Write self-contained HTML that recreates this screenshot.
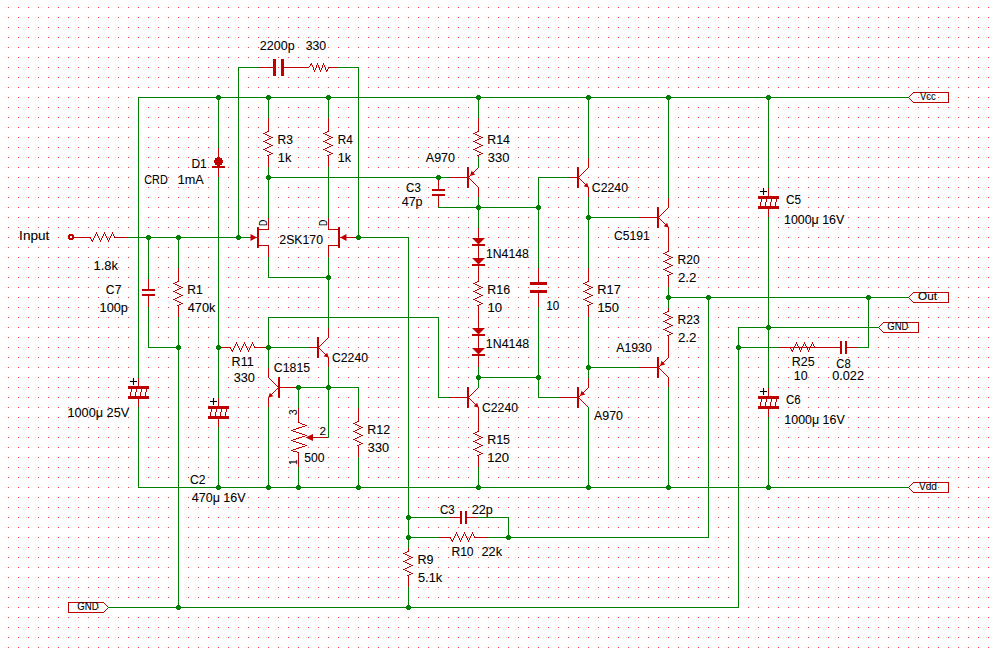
<!DOCTYPE html>
<html><head><meta charset="utf-8"><style>
html,body{margin:0;padding:0;background:#fff;width:997px;height:649px;overflow:hidden}
svg{display:block}
text{font-family:"Liberation Sans",sans-serif}
</style></head><body><svg width="997" height="649" viewBox="0 0 997 649"><rect width="997" height="649" fill="#fff"/><defs><pattern id="g" x="8" y="7" width="10" height="10" patternUnits="userSpaceOnUse"><rect x="0" y="0" width="1" height="1" fill="#ff3c3c"/></pattern></defs><rect x="0" y="0" width="997" height="649" fill="url(#g)"/><g shape-rendering="crispEdges"><rect x="69" y="234" width="4" height="1" fill="#c00000"/><rect x="68" y="235" width="6" height="1" fill="#c00000"/><rect x="68" y="236" width="2" height="2" fill="#c00000"/><rect x="72" y="236" width="2" height="2" fill="#c00000"/><rect x="68" y="238" width="6" height="1" fill="#c00000"/><rect x="69" y="239" width="4" height="1" fill="#c00000"/><rect x="73" y="237" width="18" height="1" fill="#c00000"/><rect x="115" y="237" width="13" height="1" fill="#c00000"/><rect x="90" y="237" width="1" height="2" fill="#c00000"/><rect x="91" y="239" width="1" height="2" fill="#c00000"/><rect x="92" y="240" width="1" height="2" fill="#c00000"/><rect x="93" y="238" width="1" height="2" fill="#c00000"/><rect x="94" y="236" width="1" height="2" fill="#c00000"/><rect x="95" y="234" width="1" height="2" fill="#c00000"/><rect x="96" y="232" width="1" height="2" fill="#c00000"/><rect x="97" y="234" width="1" height="2" fill="#c00000"/><rect x="98" y="236" width="1" height="2" fill="#c00000"/><rect x="99" y="238" width="1" height="2" fill="#c00000"/><rect x="100" y="240" width="1" height="2" fill="#c00000"/><rect x="101" y="238" width="1" height="2" fill="#c00000"/><rect x="102" y="236" width="1" height="2" fill="#c00000"/><rect x="103" y="234" width="1" height="2" fill="#c00000"/><rect x="104" y="232" width="1" height="2" fill="#c00000"/><rect x="105" y="234" width="1" height="2" fill="#c00000"/><rect x="106" y="236" width="1" height="2" fill="#c00000"/><rect x="107" y="238" width="1" height="2" fill="#c00000"/><rect x="108" y="240" width="1" height="2" fill="#c00000"/><rect x="109" y="238" width="1" height="2" fill="#c00000"/><rect x="110" y="236" width="1" height="2" fill="#c00000"/><rect x="111" y="234" width="1" height="2" fill="#c00000"/><rect x="112" y="232" width="1" height="2" fill="#c00000"/><rect x="113" y="234" width="1" height="2" fill="#c00000"/><rect x="114" y="236" width="1" height="2" fill="#c00000"/><rect x="913" y="92" width="36" height="1" fill="#c00000"/><rect x="913" y="102" width="36" height="1" fill="#c00000"/><rect x="948" y="92" width="1" height="11" fill="#c00000"/><rect x="913" y="92" width="1" height="1" fill="#c00000"/><rect x="912" y="93" width="1" height="1" fill="#c00000"/><rect x="911" y="94" width="1" height="1" fill="#c00000"/><rect x="910" y="95" width="1" height="1" fill="#c00000"/><rect x="909" y="96" width="1" height="1" fill="#c00000"/><rect x="908" y="97" width="1" height="1" fill="#c00000"/><rect x="909" y="98" width="1" height="1" fill="#c00000"/><rect x="910" y="99" width="1" height="1" fill="#c00000"/><rect x="911" y="100" width="1" height="1" fill="#c00000"/><rect x="912" y="101" width="1" height="1" fill="#c00000"/><rect x="913" y="102" width="1" height="1" fill="#c00000"/><rect x="913" y="292" width="36" height="1" fill="#c00000"/><rect x="913" y="302" width="36" height="1" fill="#c00000"/><rect x="948" y="292" width="1" height="11" fill="#c00000"/><rect x="913" y="292" width="1" height="1" fill="#c00000"/><rect x="912" y="293" width="1" height="1" fill="#c00000"/><rect x="911" y="294" width="1" height="1" fill="#c00000"/><rect x="910" y="295" width="1" height="1" fill="#c00000"/><rect x="909" y="296" width="1" height="1" fill="#c00000"/><rect x="908" y="297" width="1" height="1" fill="#c00000"/><rect x="909" y="298" width="1" height="1" fill="#c00000"/><rect x="910" y="299" width="1" height="1" fill="#c00000"/><rect x="911" y="300" width="1" height="1" fill="#c00000"/><rect x="912" y="301" width="1" height="1" fill="#c00000"/><rect x="913" y="302" width="1" height="1" fill="#c00000"/><rect x="883" y="322" width="36" height="1" fill="#c00000"/><rect x="883" y="332" width="36" height="1" fill="#c00000"/><rect x="918" y="322" width="1" height="11" fill="#c00000"/><rect x="883" y="322" width="1" height="1" fill="#c00000"/><rect x="882" y="323" width="1" height="1" fill="#c00000"/><rect x="881" y="324" width="1" height="1" fill="#c00000"/><rect x="880" y="325" width="1" height="1" fill="#c00000"/><rect x="879" y="326" width="1" height="1" fill="#c00000"/><rect x="878" y="327" width="1" height="1" fill="#c00000"/><rect x="879" y="328" width="1" height="1" fill="#c00000"/><rect x="880" y="329" width="1" height="1" fill="#c00000"/><rect x="881" y="330" width="1" height="1" fill="#c00000"/><rect x="882" y="331" width="1" height="1" fill="#c00000"/><rect x="883" y="332" width="1" height="1" fill="#c00000"/><rect x="913" y="482" width="36" height="1" fill="#c00000"/><rect x="913" y="492" width="36" height="1" fill="#c00000"/><rect x="948" y="482" width="1" height="11" fill="#c00000"/><rect x="913" y="482" width="1" height="1" fill="#c00000"/><rect x="912" y="483" width="1" height="1" fill="#c00000"/><rect x="911" y="484" width="1" height="1" fill="#c00000"/><rect x="910" y="485" width="1" height="1" fill="#c00000"/><rect x="909" y="486" width="1" height="1" fill="#c00000"/><rect x="908" y="487" width="1" height="1" fill="#c00000"/><rect x="909" y="488" width="1" height="1" fill="#c00000"/><rect x="910" y="489" width="1" height="1" fill="#c00000"/><rect x="911" y="490" width="1" height="1" fill="#c00000"/><rect x="912" y="491" width="1" height="1" fill="#c00000"/><rect x="913" y="492" width="1" height="1" fill="#c00000"/><rect x="68" y="602" width="36" height="1" fill="#c00000"/><rect x="68" y="612" width="36" height="1" fill="#c00000"/><rect x="68" y="602" width="1" height="11" fill="#c00000"/><rect x="103" y="602" width="1" height="1" fill="#c00000"/><rect x="104" y="603" width="1" height="1" fill="#c00000"/><rect x="105" y="604" width="1" height="1" fill="#c00000"/><rect x="106" y="605" width="1" height="1" fill="#c00000"/><rect x="107" y="606" width="1" height="1" fill="#c00000"/><rect x="108" y="607" width="1" height="1" fill="#c00000"/><rect x="107" y="608" width="1" height="1" fill="#c00000"/><rect x="106" y="609" width="1" height="1" fill="#c00000"/><rect x="105" y="610" width="1" height="1" fill="#c00000"/><rect x="104" y="611" width="1" height="1" fill="#c00000"/><rect x="103" y="612" width="1" height="1" fill="#c00000"/><rect x="138" y="377" width="1" height="10" fill="#c00000"/><rect x="138" y="398" width="1" height="10" fill="#c00000"/><rect x="128" y="386" width="21" height="3" fill="#c00000"/><rect x="128" y="396" width="21" height="3" fill="#c00000"/><rect x="130" y="392" width="1" height="4" fill="#c00000"/><rect x="131" y="389" width="1" height="3" fill="#c00000"/><rect x="135" y="392" width="1" height="4" fill="#c00000"/><rect x="136" y="389" width="1" height="3" fill="#c00000"/><rect x="140" y="392" width="1" height="4" fill="#c00000"/><rect x="141" y="389" width="1" height="3" fill="#c00000"/><rect x="145" y="392" width="1" height="4" fill="#c00000"/><rect x="146" y="389" width="1" height="3" fill="#c00000"/><rect x="148" y="277" width="1" height="13" fill="#c00000"/><rect x="148" y="295" width="1" height="13" fill="#c00000"/><rect x="142" y="289" width="13" height="2" fill="#c00000"/><rect x="142" y="294" width="13" height="2" fill="#c00000"/><rect x="178" y="267" width="1" height="15" fill="#c00000"/><rect x="178" y="305" width="1" height="13" fill="#c00000"/><rect x="177" y="281" width="2" height="1" fill="#c00000"/><rect x="175" y="282" width="2" height="1" fill="#c00000"/><rect x="173" y="283" width="2" height="1" fill="#c00000"/><rect x="175" y="284" width="2" height="1" fill="#c00000"/><rect x="177" y="285" width="2" height="1" fill="#c00000"/><rect x="179" y="286" width="2" height="1" fill="#c00000"/><rect x="181" y="287" width="2" height="1" fill="#c00000"/><rect x="179" y="288" width="2" height="1" fill="#c00000"/><rect x="177" y="289" width="2" height="1" fill="#c00000"/><rect x="175" y="290" width="2" height="1" fill="#c00000"/><rect x="173" y="291" width="2" height="1" fill="#c00000"/><rect x="175" y="292" width="2" height="1" fill="#c00000"/><rect x="177" y="293" width="2" height="1" fill="#c00000"/><rect x="179" y="294" width="2" height="1" fill="#c00000"/><rect x="181" y="295" width="2" height="1" fill="#c00000"/><rect x="179" y="296" width="2" height="1" fill="#c00000"/><rect x="177" y="297" width="2" height="1" fill="#c00000"/><rect x="175" y="298" width="2" height="1" fill="#c00000"/><rect x="173" y="299" width="2" height="1" fill="#c00000"/><rect x="175" y="300" width="2" height="1" fill="#c00000"/><rect x="177" y="301" width="2" height="1" fill="#c00000"/><rect x="179" y="302" width="2" height="1" fill="#c00000"/><rect x="181" y="303" width="2" height="1" fill="#c00000"/><rect x="179" y="304" width="2" height="1" fill="#c00000"/><rect x="177" y="305" width="2" height="1" fill="#c00000"/><rect x="218" y="148" width="1" height="30" fill="#c00000"/><rect x="217" y="157" width="3" height="9" fill="#c00000"/><rect x="215" y="158" width="7" height="7" fill="#c00000"/><rect x="214" y="160" width="9" height="3" fill="#c00000"/><rect x="212" y="166" width="13" height="2" fill="#c00000"/><rect x="218" y="397" width="1" height="10" fill="#c00000"/><rect x="218" y="418" width="1" height="10" fill="#c00000"/><rect x="208" y="406" width="21" height="3" fill="#c00000"/><rect x="208" y="416" width="21" height="3" fill="#c00000"/><rect x="210" y="412" width="1" height="4" fill="#c00000"/><rect x="211" y="409" width="1" height="3" fill="#c00000"/><rect x="215" y="412" width="1" height="4" fill="#c00000"/><rect x="216" y="409" width="1" height="3" fill="#c00000"/><rect x="220" y="412" width="1" height="4" fill="#c00000"/><rect x="221" y="409" width="1" height="3" fill="#c00000"/><rect x="225" y="412" width="1" height="4" fill="#c00000"/><rect x="226" y="409" width="1" height="3" fill="#c00000"/><rect x="259" y="67" width="15" height="1" fill="#c00000"/><rect x="283" y="67" width="16" height="1" fill="#c00000"/><rect x="273" y="59" width="3" height="17" fill="#c00000"/><rect x="281" y="59" width="3" height="17" fill="#c00000"/><rect x="284" y="67" width="25" height="1" fill="#c00000"/><rect x="328" y="67" width="10" height="1" fill="#c00000"/><rect x="308" y="67" width="1" height="1" fill="#c00000"/><rect x="309" y="66" width="1" height="1" fill="#c00000"/><rect x="310" y="65" width="1" height="1" fill="#c00000"/><rect x="310" y="64" width="1" height="1" fill="#c00000"/><rect x="311" y="63" width="1" height="1" fill="#c00000"/><rect x="311" y="64" width="1" height="1" fill="#c00000"/><rect x="312" y="65" width="1" height="1" fill="#c00000"/><rect x="312" y="66" width="1" height="1" fill="#c00000"/><rect x="313" y="67" width="1" height="1" fill="#c00000"/><rect x="313" y="68" width="1" height="1" fill="#c00000"/><rect x="313" y="69" width="1" height="1" fill="#c00000"/><rect x="314" y="70" width="1" height="1" fill="#c00000"/><rect x="314" y="71" width="1" height="1" fill="#c00000"/><rect x="315" y="69" width="1" height="1" fill="#c00000"/><rect x="315" y="68" width="1" height="1" fill="#c00000"/><rect x="316" y="67" width="1" height="1" fill="#c00000"/><rect x="316" y="66" width="1" height="1" fill="#c00000"/><rect x="316" y="65" width="1" height="1" fill="#c00000"/><rect x="317" y="64" width="1" height="1" fill="#c00000"/><rect x="317" y="63" width="1" height="1" fill="#c00000"/><rect x="318" y="65" width="1" height="1" fill="#c00000"/><rect x="318" y="66" width="1" height="1" fill="#c00000"/><rect x="319" y="67" width="1" height="1" fill="#c00000"/><rect x="319" y="68" width="1" height="1" fill="#c00000"/><rect x="319" y="69" width="1" height="1" fill="#c00000"/><rect x="320" y="70" width="1" height="1" fill="#c00000"/><rect x="320" y="71" width="1" height="1" fill="#c00000"/><rect x="321" y="69" width="1" height="1" fill="#c00000"/><rect x="321" y="68" width="1" height="1" fill="#c00000"/><rect x="322" y="67" width="1" height="1" fill="#c00000"/><rect x="322" y="66" width="1" height="1" fill="#c00000"/><rect x="322" y="65" width="1" height="1" fill="#c00000"/><rect x="323" y="64" width="1" height="1" fill="#c00000"/><rect x="323" y="63" width="1" height="1" fill="#c00000"/><rect x="324" y="65" width="1" height="1" fill="#c00000"/><rect x="324" y="66" width="1" height="1" fill="#c00000"/><rect x="325" y="67" width="1" height="1" fill="#c00000"/><rect x="325" y="68" width="1" height="1" fill="#c00000"/><rect x="325" y="69" width="1" height="1" fill="#c00000"/><rect x="326" y="70" width="1" height="1" fill="#c00000"/><rect x="326" y="71" width="1" height="1" fill="#c00000"/><rect x="327" y="70" width="1" height="1" fill="#c00000"/><rect x="327" y="69" width="1" height="1" fill="#c00000"/><rect x="328" y="68" width="1" height="1" fill="#c00000"/><rect x="328" y="67" width="1" height="1" fill="#c00000"/><rect x="268" y="117" width="1" height="15" fill="#c00000"/><rect x="268" y="155" width="1" height="13" fill="#c00000"/><rect x="267" y="131" width="2" height="1" fill="#c00000"/><rect x="265" y="132" width="2" height="1" fill="#c00000"/><rect x="263" y="133" width="2" height="1" fill="#c00000"/><rect x="265" y="134" width="2" height="1" fill="#c00000"/><rect x="267" y="135" width="2" height="1" fill="#c00000"/><rect x="269" y="136" width="2" height="1" fill="#c00000"/><rect x="271" y="137" width="2" height="1" fill="#c00000"/><rect x="269" y="138" width="2" height="1" fill="#c00000"/><rect x="267" y="139" width="2" height="1" fill="#c00000"/><rect x="265" y="140" width="2" height="1" fill="#c00000"/><rect x="263" y="141" width="2" height="1" fill="#c00000"/><rect x="265" y="142" width="2" height="1" fill="#c00000"/><rect x="267" y="143" width="2" height="1" fill="#c00000"/><rect x="269" y="144" width="2" height="1" fill="#c00000"/><rect x="271" y="145" width="2" height="1" fill="#c00000"/><rect x="269" y="146" width="2" height="1" fill="#c00000"/><rect x="267" y="147" width="2" height="1" fill="#c00000"/><rect x="265" y="148" width="2" height="1" fill="#c00000"/><rect x="263" y="149" width="2" height="1" fill="#c00000"/><rect x="265" y="150" width="2" height="1" fill="#c00000"/><rect x="267" y="151" width="2" height="1" fill="#c00000"/><rect x="269" y="152" width="2" height="1" fill="#c00000"/><rect x="271" y="153" width="2" height="1" fill="#c00000"/><rect x="269" y="154" width="2" height="1" fill="#c00000"/><rect x="267" y="155" width="2" height="1" fill="#c00000"/><rect x="328" y="117" width="1" height="15" fill="#c00000"/><rect x="328" y="155" width="1" height="13" fill="#c00000"/><rect x="327" y="131" width="2" height="1" fill="#c00000"/><rect x="325" y="132" width="2" height="1" fill="#c00000"/><rect x="323" y="133" width="2" height="1" fill="#c00000"/><rect x="325" y="134" width="2" height="1" fill="#c00000"/><rect x="327" y="135" width="2" height="1" fill="#c00000"/><rect x="329" y="136" width="2" height="1" fill="#c00000"/><rect x="331" y="137" width="2" height="1" fill="#c00000"/><rect x="329" y="138" width="2" height="1" fill="#c00000"/><rect x="327" y="139" width="2" height="1" fill="#c00000"/><rect x="325" y="140" width="2" height="1" fill="#c00000"/><rect x="323" y="141" width="2" height="1" fill="#c00000"/><rect x="325" y="142" width="2" height="1" fill="#c00000"/><rect x="327" y="143" width="2" height="1" fill="#c00000"/><rect x="329" y="144" width="2" height="1" fill="#c00000"/><rect x="331" y="145" width="2" height="1" fill="#c00000"/><rect x="329" y="146" width="2" height="1" fill="#c00000"/><rect x="327" y="147" width="2" height="1" fill="#c00000"/><rect x="325" y="148" width="2" height="1" fill="#c00000"/><rect x="323" y="149" width="2" height="1" fill="#c00000"/><rect x="325" y="150" width="2" height="1" fill="#c00000"/><rect x="327" y="151" width="2" height="1" fill="#c00000"/><rect x="329" y="152" width="2" height="1" fill="#c00000"/><rect x="331" y="153" width="2" height="1" fill="#c00000"/><rect x="329" y="154" width="2" height="1" fill="#c00000"/><rect x="327" y="155" width="2" height="1" fill="#c00000"/><rect x="257" y="227" width="2" height="21" fill="#c00000"/><rect x="257" y="229" width="12" height="1" fill="#c00000"/><rect x="257" y="245" width="12" height="1" fill="#c00000"/><rect x="238" y="237" width="20" height="1" fill="#c00000"/><rect x="268" y="217" width="1" height="13" fill="#c00000"/><rect x="268" y="245" width="1" height="13" fill="#c00000"/><rect x="338" y="227" width="2" height="21" fill="#c00000"/><rect x="328" y="229" width="12" height="1" fill="#c00000"/><rect x="328" y="245" width="12" height="1" fill="#c00000"/><rect x="339" y="237" width="20" height="1" fill="#c00000"/><rect x="328" y="217" width="1" height="13" fill="#c00000"/><rect x="328" y="245" width="1" height="13" fill="#c00000"/><rect x="438" y="177" width="1" height="13" fill="#c00000"/><rect x="438" y="195" width="1" height="13" fill="#c00000"/><rect x="432" y="189" width="13" height="2" fill="#c00000"/><rect x="432" y="194" width="13" height="2" fill="#c00000"/><rect x="467" y="167" width="2" height="21" fill="#c00000"/><rect x="448" y="177" width="19" height="1" fill="#c00000"/><rect x="469" y="176" width="1" height="1" fill="#c00000"/><rect x="469" y="178" width="1" height="1" fill="#c00000"/><rect x="470" y="175" width="1" height="1" fill="#c00000"/><rect x="470" y="179" width="1" height="1" fill="#c00000"/><rect x="471" y="174" width="1" height="1" fill="#c00000"/><rect x="471" y="180" width="1" height="1" fill="#c00000"/><rect x="472" y="173" width="1" height="1" fill="#c00000"/><rect x="472" y="181" width="1" height="1" fill="#c00000"/><rect x="473" y="172" width="1" height="1" fill="#c00000"/><rect x="473" y="182" width="1" height="1" fill="#c00000"/><rect x="474" y="171" width="1" height="1" fill="#c00000"/><rect x="474" y="183" width="1" height="1" fill="#c00000"/><rect x="475" y="170" width="1" height="1" fill="#c00000"/><rect x="475" y="184" width="1" height="1" fill="#c00000"/><rect x="476" y="169" width="1" height="1" fill="#c00000"/><rect x="476" y="185" width="1" height="1" fill="#c00000"/><rect x="477" y="168" width="1" height="1" fill="#c00000"/><rect x="477" y="186" width="1" height="1" fill="#c00000"/><rect x="478" y="167" width="1" height="1" fill="#c00000"/><rect x="478" y="187" width="1" height="1" fill="#c00000"/><rect x="478" y="157" width="1" height="11" fill="#c00000"/><rect x="478" y="187" width="1" height="11" fill="#c00000"/><rect x="478" y="117" width="1" height="15" fill="#c00000"/><rect x="478" y="155" width="1" height="13" fill="#c00000"/><rect x="477" y="131" width="2" height="1" fill="#c00000"/><rect x="475" y="132" width="2" height="1" fill="#c00000"/><rect x="473" y="133" width="2" height="1" fill="#c00000"/><rect x="475" y="134" width="2" height="1" fill="#c00000"/><rect x="477" y="135" width="2" height="1" fill="#c00000"/><rect x="479" y="136" width="2" height="1" fill="#c00000"/><rect x="481" y="137" width="2" height="1" fill="#c00000"/><rect x="479" y="138" width="2" height="1" fill="#c00000"/><rect x="477" y="139" width="2" height="1" fill="#c00000"/><rect x="475" y="140" width="2" height="1" fill="#c00000"/><rect x="473" y="141" width="2" height="1" fill="#c00000"/><rect x="475" y="142" width="2" height="1" fill="#c00000"/><rect x="477" y="143" width="2" height="1" fill="#c00000"/><rect x="479" y="144" width="2" height="1" fill="#c00000"/><rect x="481" y="145" width="2" height="1" fill="#c00000"/><rect x="479" y="146" width="2" height="1" fill="#c00000"/><rect x="477" y="147" width="2" height="1" fill="#c00000"/><rect x="475" y="148" width="2" height="1" fill="#c00000"/><rect x="473" y="149" width="2" height="1" fill="#c00000"/><rect x="475" y="150" width="2" height="1" fill="#c00000"/><rect x="477" y="151" width="2" height="1" fill="#c00000"/><rect x="479" y="152" width="2" height="1" fill="#c00000"/><rect x="481" y="153" width="2" height="1" fill="#c00000"/><rect x="479" y="154" width="2" height="1" fill="#c00000"/><rect x="477" y="155" width="2" height="1" fill="#c00000"/><rect x="478" y="228" width="1" height="41" fill="#c00000"/><rect x="478" y="316" width="1" height="51" fill="#c00000"/><rect x="472" y="244" width="13" height="2" fill="#c00000"/><rect x="472" y="264" width="13" height="2" fill="#c00000"/><rect x="478" y="268" width="1" height="14" fill="#c00000"/><rect x="478" y="305" width="1" height="12" fill="#c00000"/><rect x="477" y="281" width="2" height="1" fill="#c00000"/><rect x="475" y="282" width="2" height="1" fill="#c00000"/><rect x="473" y="283" width="2" height="1" fill="#c00000"/><rect x="475" y="284" width="2" height="1" fill="#c00000"/><rect x="477" y="285" width="2" height="1" fill="#c00000"/><rect x="479" y="286" width="2" height="1" fill="#c00000"/><rect x="481" y="287" width="2" height="1" fill="#c00000"/><rect x="479" y="288" width="2" height="1" fill="#c00000"/><rect x="477" y="289" width="2" height="1" fill="#c00000"/><rect x="475" y="290" width="2" height="1" fill="#c00000"/><rect x="473" y="291" width="2" height="1" fill="#c00000"/><rect x="475" y="292" width="2" height="1" fill="#c00000"/><rect x="477" y="293" width="2" height="1" fill="#c00000"/><rect x="479" y="294" width="2" height="1" fill="#c00000"/><rect x="481" y="295" width="2" height="1" fill="#c00000"/><rect x="479" y="296" width="2" height="1" fill="#c00000"/><rect x="477" y="297" width="2" height="1" fill="#c00000"/><rect x="475" y="298" width="2" height="1" fill="#c00000"/><rect x="473" y="299" width="2" height="1" fill="#c00000"/><rect x="475" y="300" width="2" height="1" fill="#c00000"/><rect x="477" y="301" width="2" height="1" fill="#c00000"/><rect x="479" y="302" width="2" height="1" fill="#c00000"/><rect x="481" y="303" width="2" height="1" fill="#c00000"/><rect x="479" y="304" width="2" height="1" fill="#c00000"/><rect x="477" y="305" width="2" height="1" fill="#c00000"/><rect x="472" y="334" width="13" height="2" fill="#c00000"/><rect x="472" y="354" width="13" height="2" fill="#c00000"/><rect x="538" y="267" width="1" height="16" fill="#c00000"/><rect x="538" y="292" width="1" height="16" fill="#c00000"/><rect x="530" y="282" width="17" height="3" fill="#c00000"/><rect x="530" y="290" width="17" height="3" fill="#c00000"/><rect x="577" y="167" width="2" height="21" fill="#c00000"/><rect x="558" y="177" width="19" height="1" fill="#c00000"/><rect x="579" y="176" width="1" height="1" fill="#c00000"/><rect x="579" y="178" width="1" height="1" fill="#c00000"/><rect x="580" y="175" width="1" height="1" fill="#c00000"/><rect x="580" y="179" width="1" height="1" fill="#c00000"/><rect x="581" y="174" width="1" height="1" fill="#c00000"/><rect x="581" y="180" width="1" height="1" fill="#c00000"/><rect x="582" y="173" width="1" height="1" fill="#c00000"/><rect x="582" y="181" width="1" height="1" fill="#c00000"/><rect x="583" y="172" width="1" height="1" fill="#c00000"/><rect x="583" y="182" width="1" height="1" fill="#c00000"/><rect x="584" y="171" width="1" height="1" fill="#c00000"/><rect x="584" y="183" width="1" height="1" fill="#c00000"/><rect x="585" y="170" width="1" height="1" fill="#c00000"/><rect x="585" y="184" width="1" height="1" fill="#c00000"/><rect x="586" y="169" width="1" height="1" fill="#c00000"/><rect x="586" y="185" width="1" height="1" fill="#c00000"/><rect x="587" y="168" width="1" height="1" fill="#c00000"/><rect x="587" y="186" width="1" height="1" fill="#c00000"/><rect x="588" y="167" width="1" height="1" fill="#c00000"/><rect x="588" y="187" width="1" height="1" fill="#c00000"/><rect x="588" y="157" width="1" height="11" fill="#c00000"/><rect x="588" y="187" width="1" height="11" fill="#c00000"/><rect x="588" y="267" width="1" height="15" fill="#c00000"/><rect x="588" y="305" width="1" height="13" fill="#c00000"/><rect x="587" y="281" width="2" height="1" fill="#c00000"/><rect x="585" y="282" width="2" height="1" fill="#c00000"/><rect x="583" y="283" width="2" height="1" fill="#c00000"/><rect x="585" y="284" width="2" height="1" fill="#c00000"/><rect x="587" y="285" width="2" height="1" fill="#c00000"/><rect x="589" y="286" width="2" height="1" fill="#c00000"/><rect x="591" y="287" width="2" height="1" fill="#c00000"/><rect x="589" y="288" width="2" height="1" fill="#c00000"/><rect x="587" y="289" width="2" height="1" fill="#c00000"/><rect x="585" y="290" width="2" height="1" fill="#c00000"/><rect x="583" y="291" width="2" height="1" fill="#c00000"/><rect x="585" y="292" width="2" height="1" fill="#c00000"/><rect x="587" y="293" width="2" height="1" fill="#c00000"/><rect x="589" y="294" width="2" height="1" fill="#c00000"/><rect x="591" y="295" width="2" height="1" fill="#c00000"/><rect x="589" y="296" width="2" height="1" fill="#c00000"/><rect x="587" y="297" width="2" height="1" fill="#c00000"/><rect x="585" y="298" width="2" height="1" fill="#c00000"/><rect x="583" y="299" width="2" height="1" fill="#c00000"/><rect x="585" y="300" width="2" height="1" fill="#c00000"/><rect x="587" y="301" width="2" height="1" fill="#c00000"/><rect x="589" y="302" width="2" height="1" fill="#c00000"/><rect x="591" y="303" width="2" height="1" fill="#c00000"/><rect x="589" y="304" width="2" height="1" fill="#c00000"/><rect x="587" y="305" width="2" height="1" fill="#c00000"/><rect x="577" y="387" width="2" height="21" fill="#c00000"/><rect x="558" y="397" width="19" height="1" fill="#c00000"/><rect x="579" y="396" width="1" height="1" fill="#c00000"/><rect x="579" y="398" width="1" height="1" fill="#c00000"/><rect x="580" y="395" width="1" height="1" fill="#c00000"/><rect x="580" y="399" width="1" height="1" fill="#c00000"/><rect x="581" y="394" width="1" height="1" fill="#c00000"/><rect x="581" y="400" width="1" height="1" fill="#c00000"/><rect x="582" y="393" width="1" height="1" fill="#c00000"/><rect x="582" y="401" width="1" height="1" fill="#c00000"/><rect x="583" y="392" width="1" height="1" fill="#c00000"/><rect x="583" y="402" width="1" height="1" fill="#c00000"/><rect x="584" y="391" width="1" height="1" fill="#c00000"/><rect x="584" y="403" width="1" height="1" fill="#c00000"/><rect x="585" y="390" width="1" height="1" fill="#c00000"/><rect x="585" y="404" width="1" height="1" fill="#c00000"/><rect x="586" y="389" width="1" height="1" fill="#c00000"/><rect x="586" y="405" width="1" height="1" fill="#c00000"/><rect x="587" y="388" width="1" height="1" fill="#c00000"/><rect x="587" y="406" width="1" height="1" fill="#c00000"/><rect x="588" y="387" width="1" height="1" fill="#c00000"/><rect x="588" y="407" width="1" height="1" fill="#c00000"/><rect x="588" y="377" width="1" height="11" fill="#c00000"/><rect x="588" y="407" width="1" height="11" fill="#c00000"/><rect x="467" y="387" width="2" height="21" fill="#c00000"/><rect x="448" y="397" width="19" height="1" fill="#c00000"/><rect x="469" y="396" width="1" height="1" fill="#c00000"/><rect x="469" y="398" width="1" height="1" fill="#c00000"/><rect x="470" y="395" width="1" height="1" fill="#c00000"/><rect x="470" y="399" width="1" height="1" fill="#c00000"/><rect x="471" y="394" width="1" height="1" fill="#c00000"/><rect x="471" y="400" width="1" height="1" fill="#c00000"/><rect x="472" y="393" width="1" height="1" fill="#c00000"/><rect x="472" y="401" width="1" height="1" fill="#c00000"/><rect x="473" y="392" width="1" height="1" fill="#c00000"/><rect x="473" y="402" width="1" height="1" fill="#c00000"/><rect x="474" y="391" width="1" height="1" fill="#c00000"/><rect x="474" y="403" width="1" height="1" fill="#c00000"/><rect x="475" y="390" width="1" height="1" fill="#c00000"/><rect x="475" y="404" width="1" height="1" fill="#c00000"/><rect x="476" y="389" width="1" height="1" fill="#c00000"/><rect x="476" y="405" width="1" height="1" fill="#c00000"/><rect x="477" y="388" width="1" height="1" fill="#c00000"/><rect x="477" y="406" width="1" height="1" fill="#c00000"/><rect x="478" y="387" width="1" height="1" fill="#c00000"/><rect x="478" y="407" width="1" height="1" fill="#c00000"/><rect x="478" y="377" width="1" height="11" fill="#c00000"/><rect x="478" y="407" width="1" height="11" fill="#c00000"/><rect x="478" y="417" width="1" height="15" fill="#c00000"/><rect x="478" y="455" width="1" height="13" fill="#c00000"/><rect x="477" y="431" width="2" height="1" fill="#c00000"/><rect x="475" y="432" width="2" height="1" fill="#c00000"/><rect x="473" y="433" width="2" height="1" fill="#c00000"/><rect x="475" y="434" width="2" height="1" fill="#c00000"/><rect x="477" y="435" width="2" height="1" fill="#c00000"/><rect x="479" y="436" width="2" height="1" fill="#c00000"/><rect x="481" y="437" width="2" height="1" fill="#c00000"/><rect x="479" y="438" width="2" height="1" fill="#c00000"/><rect x="477" y="439" width="2" height="1" fill="#c00000"/><rect x="475" y="440" width="2" height="1" fill="#c00000"/><rect x="473" y="441" width="2" height="1" fill="#c00000"/><rect x="475" y="442" width="2" height="1" fill="#c00000"/><rect x="477" y="443" width="2" height="1" fill="#c00000"/><rect x="479" y="444" width="2" height="1" fill="#c00000"/><rect x="481" y="445" width="2" height="1" fill="#c00000"/><rect x="479" y="446" width="2" height="1" fill="#c00000"/><rect x="477" y="447" width="2" height="1" fill="#c00000"/><rect x="475" y="448" width="2" height="1" fill="#c00000"/><rect x="473" y="449" width="2" height="1" fill="#c00000"/><rect x="475" y="450" width="2" height="1" fill="#c00000"/><rect x="477" y="451" width="2" height="1" fill="#c00000"/><rect x="479" y="452" width="2" height="1" fill="#c00000"/><rect x="481" y="453" width="2" height="1" fill="#c00000"/><rect x="479" y="454" width="2" height="1" fill="#c00000"/><rect x="477" y="455" width="2" height="1" fill="#c00000"/><rect x="657" y="207" width="2" height="21" fill="#c00000"/><rect x="638" y="217" width="19" height="1" fill="#c00000"/><rect x="659" y="216" width="1" height="1" fill="#c00000"/><rect x="659" y="218" width="1" height="1" fill="#c00000"/><rect x="660" y="215" width="1" height="1" fill="#c00000"/><rect x="660" y="219" width="1" height="1" fill="#c00000"/><rect x="661" y="214" width="1" height="1" fill="#c00000"/><rect x="661" y="220" width="1" height="1" fill="#c00000"/><rect x="662" y="213" width="1" height="1" fill="#c00000"/><rect x="662" y="221" width="1" height="1" fill="#c00000"/><rect x="663" y="212" width="1" height="1" fill="#c00000"/><rect x="663" y="222" width="1" height="1" fill="#c00000"/><rect x="664" y="211" width="1" height="1" fill="#c00000"/><rect x="664" y="223" width="1" height="1" fill="#c00000"/><rect x="665" y="210" width="1" height="1" fill="#c00000"/><rect x="665" y="224" width="1" height="1" fill="#c00000"/><rect x="666" y="209" width="1" height="1" fill="#c00000"/><rect x="666" y="225" width="1" height="1" fill="#c00000"/><rect x="667" y="208" width="1" height="1" fill="#c00000"/><rect x="667" y="226" width="1" height="1" fill="#c00000"/><rect x="668" y="207" width="1" height="1" fill="#c00000"/><rect x="668" y="227" width="1" height="1" fill="#c00000"/><rect x="668" y="197" width="1" height="11" fill="#c00000"/><rect x="668" y="227" width="1" height="11" fill="#c00000"/><rect x="668" y="237" width="1" height="15" fill="#c00000"/><rect x="668" y="275" width="1" height="13" fill="#c00000"/><rect x="667" y="251" width="2" height="1" fill="#c00000"/><rect x="665" y="252" width="2" height="1" fill="#c00000"/><rect x="663" y="253" width="2" height="1" fill="#c00000"/><rect x="665" y="254" width="2" height="1" fill="#c00000"/><rect x="667" y="255" width="2" height="1" fill="#c00000"/><rect x="669" y="256" width="2" height="1" fill="#c00000"/><rect x="671" y="257" width="2" height="1" fill="#c00000"/><rect x="669" y="258" width="2" height="1" fill="#c00000"/><rect x="667" y="259" width="2" height="1" fill="#c00000"/><rect x="665" y="260" width="2" height="1" fill="#c00000"/><rect x="663" y="261" width="2" height="1" fill="#c00000"/><rect x="665" y="262" width="2" height="1" fill="#c00000"/><rect x="667" y="263" width="2" height="1" fill="#c00000"/><rect x="669" y="264" width="2" height="1" fill="#c00000"/><rect x="671" y="265" width="2" height="1" fill="#c00000"/><rect x="669" y="266" width="2" height="1" fill="#c00000"/><rect x="667" y="267" width="2" height="1" fill="#c00000"/><rect x="665" y="268" width="2" height="1" fill="#c00000"/><rect x="663" y="269" width="2" height="1" fill="#c00000"/><rect x="665" y="270" width="2" height="1" fill="#c00000"/><rect x="667" y="271" width="2" height="1" fill="#c00000"/><rect x="669" y="272" width="2" height="1" fill="#c00000"/><rect x="671" y="273" width="2" height="1" fill="#c00000"/><rect x="669" y="274" width="2" height="1" fill="#c00000"/><rect x="667" y="275" width="2" height="1" fill="#c00000"/><rect x="668" y="307" width="1" height="5" fill="#c00000"/><rect x="668" y="335" width="1" height="23" fill="#c00000"/><rect x="667" y="311" width="2" height="1" fill="#c00000"/><rect x="665" y="312" width="2" height="1" fill="#c00000"/><rect x="663" y="313" width="2" height="1" fill="#c00000"/><rect x="665" y="314" width="2" height="1" fill="#c00000"/><rect x="667" y="315" width="2" height="1" fill="#c00000"/><rect x="669" y="316" width="2" height="1" fill="#c00000"/><rect x="671" y="317" width="2" height="1" fill="#c00000"/><rect x="669" y="318" width="2" height="1" fill="#c00000"/><rect x="667" y="319" width="2" height="1" fill="#c00000"/><rect x="665" y="320" width="2" height="1" fill="#c00000"/><rect x="663" y="321" width="2" height="1" fill="#c00000"/><rect x="665" y="322" width="2" height="1" fill="#c00000"/><rect x="667" y="323" width="2" height="1" fill="#c00000"/><rect x="669" y="324" width="2" height="1" fill="#c00000"/><rect x="671" y="325" width="2" height="1" fill="#c00000"/><rect x="669" y="326" width="2" height="1" fill="#c00000"/><rect x="667" y="327" width="2" height="1" fill="#c00000"/><rect x="665" y="328" width="2" height="1" fill="#c00000"/><rect x="663" y="329" width="2" height="1" fill="#c00000"/><rect x="665" y="330" width="2" height="1" fill="#c00000"/><rect x="667" y="331" width="2" height="1" fill="#c00000"/><rect x="669" y="332" width="2" height="1" fill="#c00000"/><rect x="671" y="333" width="2" height="1" fill="#c00000"/><rect x="669" y="334" width="2" height="1" fill="#c00000"/><rect x="667" y="335" width="2" height="1" fill="#c00000"/><rect x="657" y="357" width="2" height="21" fill="#c00000"/><rect x="638" y="367" width="19" height="1" fill="#c00000"/><rect x="659" y="366" width="1" height="1" fill="#c00000"/><rect x="659" y="368" width="1" height="1" fill="#c00000"/><rect x="660" y="365" width="1" height="1" fill="#c00000"/><rect x="660" y="369" width="1" height="1" fill="#c00000"/><rect x="661" y="364" width="1" height="1" fill="#c00000"/><rect x="661" y="370" width="1" height="1" fill="#c00000"/><rect x="662" y="363" width="1" height="1" fill="#c00000"/><rect x="662" y="371" width="1" height="1" fill="#c00000"/><rect x="663" y="362" width="1" height="1" fill="#c00000"/><rect x="663" y="372" width="1" height="1" fill="#c00000"/><rect x="664" y="361" width="1" height="1" fill="#c00000"/><rect x="664" y="373" width="1" height="1" fill="#c00000"/><rect x="665" y="360" width="1" height="1" fill="#c00000"/><rect x="665" y="374" width="1" height="1" fill="#c00000"/><rect x="666" y="359" width="1" height="1" fill="#c00000"/><rect x="666" y="375" width="1" height="1" fill="#c00000"/><rect x="667" y="358" width="1" height="1" fill="#c00000"/><rect x="667" y="376" width="1" height="1" fill="#c00000"/><rect x="668" y="357" width="1" height="1" fill="#c00000"/><rect x="668" y="377" width="1" height="1" fill="#c00000"/><rect x="668" y="347" width="1" height="11" fill="#c00000"/><rect x="668" y="377" width="1" height="11" fill="#c00000"/><rect x="768" y="187" width="1" height="10" fill="#c00000"/><rect x="768" y="208" width="1" height="10" fill="#c00000"/><rect x="758" y="196" width="21" height="3" fill="#c00000"/><rect x="758" y="206" width="21" height="3" fill="#c00000"/><rect x="760" y="202" width="1" height="4" fill="#c00000"/><rect x="761" y="199" width="1" height="3" fill="#c00000"/><rect x="765" y="202" width="1" height="4" fill="#c00000"/><rect x="766" y="199" width="1" height="3" fill="#c00000"/><rect x="770" y="202" width="1" height="4" fill="#c00000"/><rect x="771" y="199" width="1" height="3" fill="#c00000"/><rect x="775" y="202" width="1" height="4" fill="#c00000"/><rect x="776" y="199" width="1" height="3" fill="#c00000"/><rect x="768" y="387" width="1" height="10" fill="#c00000"/><rect x="768" y="408" width="1" height="10" fill="#c00000"/><rect x="758" y="396" width="21" height="3" fill="#c00000"/><rect x="758" y="406" width="21" height="3" fill="#c00000"/><rect x="760" y="402" width="1" height="4" fill="#c00000"/><rect x="761" y="399" width="1" height="3" fill="#c00000"/><rect x="765" y="402" width="1" height="4" fill="#c00000"/><rect x="766" y="399" width="1" height="3" fill="#c00000"/><rect x="770" y="402" width="1" height="4" fill="#c00000"/><rect x="771" y="399" width="1" height="3" fill="#c00000"/><rect x="775" y="402" width="1" height="4" fill="#c00000"/><rect x="776" y="399" width="1" height="3" fill="#c00000"/><rect x="779" y="347" width="12" height="1" fill="#c00000"/><rect x="789" y="347" width="27" height="1" fill="#c00000"/><rect x="790" y="347" width="1" height="2" fill="#c00000"/><rect x="791" y="349" width="1" height="2" fill="#c00000"/><rect x="792" y="350" width="1" height="2" fill="#c00000"/><rect x="793" y="348" width="1" height="2" fill="#c00000"/><rect x="794" y="346" width="1" height="2" fill="#c00000"/><rect x="795" y="344" width="1" height="2" fill="#c00000"/><rect x="796" y="342" width="1" height="2" fill="#c00000"/><rect x="797" y="344" width="1" height="2" fill="#c00000"/><rect x="798" y="346" width="1" height="2" fill="#c00000"/><rect x="799" y="348" width="1" height="2" fill="#c00000"/><rect x="800" y="350" width="1" height="2" fill="#c00000"/><rect x="801" y="348" width="1" height="2" fill="#c00000"/><rect x="802" y="346" width="1" height="2" fill="#c00000"/><rect x="803" y="344" width="1" height="2" fill="#c00000"/><rect x="804" y="342" width="1" height="2" fill="#c00000"/><rect x="805" y="344" width="1" height="2" fill="#c00000"/><rect x="806" y="346" width="1" height="2" fill="#c00000"/><rect x="807" y="348" width="1" height="2" fill="#c00000"/><rect x="808" y="350" width="1" height="2" fill="#c00000"/><rect x="809" y="348" width="1" height="2" fill="#c00000"/><rect x="810" y="346" width="1" height="2" fill="#c00000"/><rect x="811" y="344" width="1" height="2" fill="#c00000"/><rect x="812" y="342" width="1" height="2" fill="#c00000"/><rect x="813" y="344" width="1" height="2" fill="#c00000"/><rect x="814" y="346" width="1" height="2" fill="#c00000"/><rect x="814" y="347" width="27" height="1" fill="#c00000"/><rect x="814" y="347" width="27" height="1" fill="#c00000"/><rect x="846" y="347" width="12" height="1" fill="#c00000"/><rect x="840" y="341" width="2" height="13" fill="#c00000"/><rect x="845" y="341" width="2" height="13" fill="#c00000"/><rect x="449" y="517" width="12" height="1" fill="#c00000"/><rect x="466" y="517" width="13" height="1" fill="#c00000"/><rect x="460" y="511" width="2" height="13" fill="#c00000"/><rect x="465" y="511" width="2" height="13" fill="#c00000"/><rect x="439" y="537" width="12" height="1" fill="#c00000"/><rect x="475" y="537" width="13" height="1" fill="#c00000"/><rect x="450" y="537" width="1" height="2" fill="#c00000"/><rect x="451" y="539" width="1" height="2" fill="#c00000"/><rect x="452" y="540" width="1" height="2" fill="#c00000"/><rect x="453" y="538" width="1" height="2" fill="#c00000"/><rect x="454" y="536" width="1" height="2" fill="#c00000"/><rect x="455" y="534" width="1" height="2" fill="#c00000"/><rect x="456" y="532" width="1" height="2" fill="#c00000"/><rect x="457" y="534" width="1" height="2" fill="#c00000"/><rect x="458" y="536" width="1" height="2" fill="#c00000"/><rect x="459" y="538" width="1" height="2" fill="#c00000"/><rect x="460" y="540" width="1" height="2" fill="#c00000"/><rect x="461" y="538" width="1" height="2" fill="#c00000"/><rect x="462" y="536" width="1" height="2" fill="#c00000"/><rect x="463" y="534" width="1" height="2" fill="#c00000"/><rect x="464" y="532" width="1" height="2" fill="#c00000"/><rect x="465" y="534" width="1" height="2" fill="#c00000"/><rect x="466" y="536" width="1" height="2" fill="#c00000"/><rect x="467" y="538" width="1" height="2" fill="#c00000"/><rect x="468" y="540" width="1" height="2" fill="#c00000"/><rect x="469" y="538" width="1" height="2" fill="#c00000"/><rect x="470" y="536" width="1" height="2" fill="#c00000"/><rect x="471" y="534" width="1" height="2" fill="#c00000"/><rect x="472" y="532" width="1" height="2" fill="#c00000"/><rect x="473" y="534" width="1" height="2" fill="#c00000"/><rect x="474" y="536" width="1" height="2" fill="#c00000"/><rect x="408" y="547" width="1" height="5" fill="#c00000"/><rect x="408" y="575" width="1" height="13" fill="#c00000"/><rect x="407" y="551" width="2" height="1" fill="#c00000"/><rect x="405" y="552" width="2" height="1" fill="#c00000"/><rect x="403" y="553" width="2" height="1" fill="#c00000"/><rect x="405" y="554" width="2" height="1" fill="#c00000"/><rect x="407" y="555" width="2" height="1" fill="#c00000"/><rect x="409" y="556" width="2" height="1" fill="#c00000"/><rect x="411" y="557" width="2" height="1" fill="#c00000"/><rect x="409" y="558" width="2" height="1" fill="#c00000"/><rect x="407" y="559" width="2" height="1" fill="#c00000"/><rect x="405" y="560" width="2" height="1" fill="#c00000"/><rect x="403" y="561" width="2" height="1" fill="#c00000"/><rect x="405" y="562" width="2" height="1" fill="#c00000"/><rect x="407" y="563" width="2" height="1" fill="#c00000"/><rect x="409" y="564" width="2" height="1" fill="#c00000"/><rect x="411" y="565" width="2" height="1" fill="#c00000"/><rect x="409" y="566" width="2" height="1" fill="#c00000"/><rect x="407" y="567" width="2" height="1" fill="#c00000"/><rect x="405" y="568" width="2" height="1" fill="#c00000"/><rect x="403" y="569" width="2" height="1" fill="#c00000"/><rect x="405" y="570" width="2" height="1" fill="#c00000"/><rect x="407" y="571" width="2" height="1" fill="#c00000"/><rect x="409" y="572" width="2" height="1" fill="#c00000"/><rect x="411" y="573" width="2" height="1" fill="#c00000"/><rect x="409" y="574" width="2" height="1" fill="#c00000"/><rect x="407" y="575" width="2" height="1" fill="#c00000"/><rect x="218" y="347" width="13" height="1" fill="#c00000"/><rect x="255" y="347" width="13" height="1" fill="#c00000"/><rect x="230" y="347" width="1" height="2" fill="#c00000"/><rect x="231" y="349" width="1" height="2" fill="#c00000"/><rect x="232" y="350" width="1" height="2" fill="#c00000"/><rect x="233" y="348" width="1" height="2" fill="#c00000"/><rect x="234" y="346" width="1" height="2" fill="#c00000"/><rect x="235" y="344" width="1" height="2" fill="#c00000"/><rect x="236" y="342" width="1" height="2" fill="#c00000"/><rect x="237" y="344" width="1" height="2" fill="#c00000"/><rect x="238" y="346" width="1" height="2" fill="#c00000"/><rect x="239" y="348" width="1" height="2" fill="#c00000"/><rect x="240" y="350" width="1" height="2" fill="#c00000"/><rect x="241" y="348" width="1" height="2" fill="#c00000"/><rect x="242" y="346" width="1" height="2" fill="#c00000"/><rect x="243" y="344" width="1" height="2" fill="#c00000"/><rect x="244" y="342" width="1" height="2" fill="#c00000"/><rect x="245" y="344" width="1" height="2" fill="#c00000"/><rect x="246" y="346" width="1" height="2" fill="#c00000"/><rect x="247" y="348" width="1" height="2" fill="#c00000"/><rect x="248" y="350" width="1" height="2" fill="#c00000"/><rect x="249" y="348" width="1" height="2" fill="#c00000"/><rect x="250" y="346" width="1" height="2" fill="#c00000"/><rect x="251" y="344" width="1" height="2" fill="#c00000"/><rect x="252" y="342" width="1" height="2" fill="#c00000"/><rect x="253" y="344" width="1" height="2" fill="#c00000"/><rect x="254" y="346" width="1" height="2" fill="#c00000"/><rect x="317" y="337" width="2" height="21" fill="#c00000"/><rect x="298" y="347" width="19" height="1" fill="#c00000"/><rect x="319" y="346" width="1" height="1" fill="#c00000"/><rect x="319" y="348" width="1" height="1" fill="#c00000"/><rect x="320" y="345" width="1" height="1" fill="#c00000"/><rect x="320" y="349" width="1" height="1" fill="#c00000"/><rect x="321" y="344" width="1" height="1" fill="#c00000"/><rect x="321" y="350" width="1" height="1" fill="#c00000"/><rect x="322" y="343" width="1" height="1" fill="#c00000"/><rect x="322" y="351" width="1" height="1" fill="#c00000"/><rect x="323" y="342" width="1" height="1" fill="#c00000"/><rect x="323" y="352" width="1" height="1" fill="#c00000"/><rect x="324" y="341" width="1" height="1" fill="#c00000"/><rect x="324" y="353" width="1" height="1" fill="#c00000"/><rect x="325" y="340" width="1" height="1" fill="#c00000"/><rect x="325" y="354" width="1" height="1" fill="#c00000"/><rect x="326" y="339" width="1" height="1" fill="#c00000"/><rect x="326" y="355" width="1" height="1" fill="#c00000"/><rect x="327" y="338" width="1" height="1" fill="#c00000"/><rect x="327" y="356" width="1" height="1" fill="#c00000"/><rect x="328" y="337" width="1" height="1" fill="#c00000"/><rect x="328" y="357" width="1" height="1" fill="#c00000"/><rect x="328" y="327" width="1" height="11" fill="#c00000"/><rect x="328" y="357" width="1" height="11" fill="#c00000"/><rect x="278" y="377" width="2" height="21" fill="#c00000"/><rect x="280" y="387" width="19" height="1" fill="#c00000"/><rect x="277" y="386" width="1" height="1" fill="#c00000"/><rect x="277" y="388" width="1" height="1" fill="#c00000"/><rect x="276" y="385" width="1" height="1" fill="#c00000"/><rect x="276" y="389" width="1" height="1" fill="#c00000"/><rect x="275" y="384" width="1" height="1" fill="#c00000"/><rect x="275" y="390" width="1" height="1" fill="#c00000"/><rect x="274" y="383" width="1" height="1" fill="#c00000"/><rect x="274" y="391" width="1" height="1" fill="#c00000"/><rect x="273" y="382" width="1" height="1" fill="#c00000"/><rect x="273" y="392" width="1" height="1" fill="#c00000"/><rect x="272" y="381" width="1" height="1" fill="#c00000"/><rect x="272" y="393" width="1" height="1" fill="#c00000"/><rect x="271" y="380" width="1" height="1" fill="#c00000"/><rect x="271" y="394" width="1" height="1" fill="#c00000"/><rect x="270" y="379" width="1" height="1" fill="#c00000"/><rect x="270" y="395" width="1" height="1" fill="#c00000"/><rect x="269" y="378" width="1" height="1" fill="#c00000"/><rect x="269" y="396" width="1" height="1" fill="#c00000"/><rect x="268" y="377" width="1" height="1" fill="#c00000"/><rect x="268" y="397" width="1" height="1" fill="#c00000"/><rect x="268" y="367" width="1" height="11" fill="#c00000"/><rect x="268" y="397" width="1" height="11" fill="#c00000"/><rect x="298" y="407" width="1" height="16" fill="#c00000"/><rect x="298" y="452" width="1" height="16" fill="#c00000"/><rect x="298" y="422" width="1" height="1" fill="#c00000"/><rect x="299" y="422" width="1" height="1" fill="#c00000"/><rect x="300" y="423" width="1" height="1" fill="#c00000"/><rect x="301" y="423" width="1" height="1" fill="#c00000"/><rect x="302" y="424" width="1" height="1" fill="#c00000"/><rect x="303" y="424" width="1" height="1" fill="#c00000"/><rect x="304" y="424" width="1" height="1" fill="#c00000"/><rect x="305" y="425" width="1" height="1" fill="#c00000"/><rect x="306" y="425" width="1" height="1" fill="#c00000"/><rect x="304" y="426" width="1" height="1" fill="#c00000"/><rect x="303" y="426" width="1" height="1" fill="#c00000"/><rect x="302" y="426" width="1" height="1" fill="#c00000"/><rect x="301" y="427" width="1" height="1" fill="#c00000"/><rect x="300" y="427" width="1" height="1" fill="#c00000"/><rect x="299" y="427" width="1" height="1" fill="#c00000"/><rect x="298" y="428" width="1" height="1" fill="#c00000"/><rect x="297" y="428" width="1" height="1" fill="#c00000"/><rect x="296" y="428" width="1" height="1" fill="#c00000"/><rect x="295" y="429" width="1" height="1" fill="#c00000"/><rect x="294" y="429" width="1" height="1" fill="#c00000"/><rect x="293" y="429" width="1" height="1" fill="#c00000"/><rect x="292" y="430" width="1" height="1" fill="#c00000"/><rect x="291" y="430" width="1" height="1" fill="#c00000"/><rect x="293" y="431" width="1" height="1" fill="#c00000"/><rect x="294" y="431" width="1" height="1" fill="#c00000"/><rect x="295" y="431" width="1" height="1" fill="#c00000"/><rect x="296" y="432" width="1" height="1" fill="#c00000"/><rect x="297" y="432" width="1" height="1" fill="#c00000"/><rect x="298" y="432" width="1" height="1" fill="#c00000"/><rect x="299" y="433" width="1" height="1" fill="#c00000"/><rect x="300" y="433" width="1" height="1" fill="#c00000"/><rect x="301" y="433" width="1" height="1" fill="#c00000"/><rect x="302" y="434" width="1" height="1" fill="#c00000"/><rect x="303" y="434" width="1" height="1" fill="#c00000"/><rect x="304" y="434" width="1" height="1" fill="#c00000"/><rect x="305" y="435" width="1" height="1" fill="#c00000"/><rect x="306" y="435" width="1" height="1" fill="#c00000"/><rect x="304" y="436" width="1" height="1" fill="#c00000"/><rect x="303" y="436" width="1" height="1" fill="#c00000"/><rect x="302" y="436" width="1" height="1" fill="#c00000"/><rect x="301" y="437" width="1" height="1" fill="#c00000"/><rect x="300" y="437" width="1" height="1" fill="#c00000"/><rect x="299" y="437" width="1" height="1" fill="#c00000"/><rect x="298" y="438" width="1" height="1" fill="#c00000"/><rect x="297" y="438" width="1" height="1" fill="#c00000"/><rect x="296" y="438" width="1" height="1" fill="#c00000"/><rect x="295" y="439" width="1" height="1" fill="#c00000"/><rect x="294" y="439" width="1" height="1" fill="#c00000"/><rect x="293" y="439" width="1" height="1" fill="#c00000"/><rect x="292" y="440" width="1" height="1" fill="#c00000"/><rect x="291" y="440" width="1" height="1" fill="#c00000"/><rect x="293" y="441" width="1" height="1" fill="#c00000"/><rect x="294" y="441" width="1" height="1" fill="#c00000"/><rect x="295" y="441" width="1" height="1" fill="#c00000"/><rect x="296" y="442" width="1" height="1" fill="#c00000"/><rect x="297" y="442" width="1" height="1" fill="#c00000"/><rect x="298" y="442" width="1" height="1" fill="#c00000"/><rect x="299" y="443" width="1" height="1" fill="#c00000"/><rect x="300" y="443" width="1" height="1" fill="#c00000"/><rect x="301" y="443" width="1" height="1" fill="#c00000"/><rect x="302" y="444" width="1" height="1" fill="#c00000"/><rect x="303" y="444" width="1" height="1" fill="#c00000"/><rect x="304" y="444" width="1" height="1" fill="#c00000"/><rect x="305" y="445" width="1" height="1" fill="#c00000"/><rect x="306" y="445" width="1" height="1" fill="#c00000"/><rect x="304" y="446" width="1" height="1" fill="#c00000"/><rect x="303" y="446" width="1" height="1" fill="#c00000"/><rect x="302" y="446" width="1" height="1" fill="#c00000"/><rect x="301" y="447" width="1" height="1" fill="#c00000"/><rect x="300" y="447" width="1" height="1" fill="#c00000"/><rect x="299" y="447" width="1" height="1" fill="#c00000"/><rect x="298" y="448" width="1" height="1" fill="#c00000"/><rect x="297" y="448" width="1" height="1" fill="#c00000"/><rect x="296" y="448" width="1" height="1" fill="#c00000"/><rect x="295" y="449" width="1" height="1" fill="#c00000"/><rect x="294" y="449" width="1" height="1" fill="#c00000"/><rect x="293" y="449" width="1" height="1" fill="#c00000"/><rect x="292" y="450" width="1" height="1" fill="#c00000"/><rect x="291" y="450" width="1" height="1" fill="#c00000"/><rect x="293" y="451" width="1" height="1" fill="#c00000"/><rect x="294" y="451" width="1" height="1" fill="#c00000"/><rect x="295" y="451" width="1" height="1" fill="#c00000"/><rect x="296" y="451" width="1" height="1" fill="#c00000"/><rect x="297" y="452" width="1" height="1" fill="#c00000"/><rect x="298" y="452" width="1" height="1" fill="#c00000"/><rect x="313" y="437" width="16" height="1" fill="#c00000"/><rect x="358" y="407" width="1" height="15" fill="#c00000"/><rect x="358" y="445" width="1" height="13" fill="#c00000"/><rect x="357" y="421" width="2" height="1" fill="#c00000"/><rect x="355" y="422" width="2" height="1" fill="#c00000"/><rect x="353" y="423" width="2" height="1" fill="#c00000"/><rect x="355" y="424" width="2" height="1" fill="#c00000"/><rect x="357" y="425" width="2" height="1" fill="#c00000"/><rect x="359" y="426" width="2" height="1" fill="#c00000"/><rect x="361" y="427" width="2" height="1" fill="#c00000"/><rect x="359" y="428" width="2" height="1" fill="#c00000"/><rect x="357" y="429" width="2" height="1" fill="#c00000"/><rect x="355" y="430" width="2" height="1" fill="#c00000"/><rect x="353" y="431" width="2" height="1" fill="#c00000"/><rect x="355" y="432" width="2" height="1" fill="#c00000"/><rect x="357" y="433" width="2" height="1" fill="#c00000"/><rect x="359" y="434" width="2" height="1" fill="#c00000"/><rect x="361" y="435" width="2" height="1" fill="#c00000"/><rect x="359" y="436" width="2" height="1" fill="#c00000"/><rect x="357" y="437" width="2" height="1" fill="#c00000"/><rect x="355" y="438" width="2" height="1" fill="#c00000"/><rect x="353" y="439" width="2" height="1" fill="#c00000"/><rect x="355" y="440" width="2" height="1" fill="#c00000"/><rect x="357" y="441" width="2" height="1" fill="#c00000"/><rect x="359" y="442" width="2" height="1" fill="#c00000"/><rect x="361" y="443" width="2" height="1" fill="#c00000"/><rect x="359" y="444" width="2" height="1" fill="#c00000"/><rect x="357" y="445" width="2" height="1" fill="#c00000"/></g><g><polygon points="257,237.5 250.5,234 250.5,241" fill="#c00000"/><polygon points="340,237.5 346.5,234 346.5,241" fill="#c00000"/><polygon points="470.0,176.0 471.56,170.77 475.23,174.44" fill="#c00000"/><polygon points="472,238 485,238 478.5,244.5" fill="#c00000"/><polygon points="472,258 485,258 478.5,264.5" fill="#c00000"/><polygon points="472,328 485,328 478.5,334.5" fill="#c00000"/><polygon points="472,348 485,348 478.5,354.5" fill="#c00000"/><polygon points="588.8,187.8 583.64,186.17 587.17,182.64" fill="#c00000"/><polygon points="580.0,396.0 581.56,390.77 585.23,394.44" fill="#c00000"/><polygon points="478.8,407.8 473.64,406.17 477.17,402.64" fill="#c00000"/><polygon points="668.8,227.8 663.64,226.17 667.17,222.64" fill="#c00000"/><polygon points="660.0,366.0 661.56,360.77 665.23,364.44" fill="#c00000"/><polygon points="328.8,357.8 323.64,356.17 327.17,352.64" fill="#c00000"/><polygon points="268.2,397.8 269.83,392.64 273.36,396.17" fill="#c00000"/><polygon points="305.5,437.5 313,434 313,441" fill="#c00000"/></g><g shape-rendering="crispEdges"><rect x="138" y="97" width="771" height="1" fill="#008000"/><rect x="138" y="97" width="1" height="281" fill="#008000"/><rect x="138" y="407" width="1" height="81" fill="#008000"/><rect x="138" y="487" width="771" height="1" fill="#008000"/><rect x="128" y="237" width="121" height="1" fill="#008000"/><rect x="148" y="237" width="1" height="42" fill="#008000"/><rect x="148" y="307" width="1" height="41" fill="#008000"/><rect x="148" y="347" width="31" height="1" fill="#008000"/><rect x="178" y="237" width="1" height="31" fill="#008000"/><rect x="178" y="317" width="1" height="291" fill="#008000"/><rect x="218" y="97" width="1" height="51" fill="#008000"/><rect x="218" y="177" width="1" height="221" fill="#008000"/><rect x="218" y="427" width="1" height="61" fill="#008000"/><rect x="238" y="67" width="1" height="171" fill="#008000"/><rect x="238" y="67" width="21" height="1" fill="#008000"/><rect x="338" y="67" width="21" height="1" fill="#008000"/><rect x="358" y="67" width="1" height="171" fill="#008000"/><rect x="268" y="97" width="1" height="21" fill="#008000"/><rect x="328" y="97" width="1" height="21" fill="#008000"/><rect x="268" y="167" width="1" height="51" fill="#008000"/><rect x="328" y="167" width="1" height="51" fill="#008000"/><rect x="358" y="237" width="51" height="1" fill="#008000"/><rect x="268" y="257" width="1" height="21" fill="#008000"/><rect x="268" y="277" width="61" height="1" fill="#008000"/><rect x="328" y="257" width="1" height="71" fill="#008000"/><rect x="268" y="177" width="181" height="1" fill="#008000"/><rect x="438" y="207" width="101" height="1" fill="#008000"/><rect x="478" y="97" width="1" height="21" fill="#008000"/><rect x="478" y="157" width="1" height="11" fill="#008000"/><rect x="478" y="197" width="1" height="31" fill="#008000"/><rect x="478" y="367" width="1" height="21" fill="#008000"/><rect x="478" y="377" width="61" height="1" fill="#008000"/><rect x="538" y="177" width="1" height="91" fill="#008000"/><rect x="538" y="177" width="31" height="1" fill="#008000"/><rect x="538" y="307" width="1" height="91" fill="#008000"/><rect x="538" y="397" width="21" height="1" fill="#008000"/><rect x="588" y="97" width="1" height="61" fill="#008000"/><rect x="588" y="197" width="1" height="71" fill="#008000"/><rect x="588" y="317" width="1" height="61" fill="#008000"/><rect x="588" y="407" width="1" height="81" fill="#008000"/><rect x="268" y="317" width="171" height="1" fill="#008000"/><rect x="438" y="317" width="1" height="81" fill="#008000"/><rect x="438" y="397" width="11" height="1" fill="#008000"/><rect x="478" y="467" width="1" height="21" fill="#008000"/><rect x="588" y="217" width="51" height="1" fill="#008000"/><rect x="668" y="97" width="1" height="101" fill="#008000"/><rect x="668" y="287" width="1" height="21" fill="#008000"/><rect x="588" y="367" width="51" height="1" fill="#008000"/><rect x="668" y="387" width="1" height="101" fill="#008000"/><rect x="668" y="297" width="241" height="1" fill="#008000"/><rect x="708" y="297" width="1" height="241" fill="#008000"/><rect x="868" y="297" width="1" height="51" fill="#008000"/><rect x="858" y="347" width="11" height="1" fill="#008000"/><rect x="768" y="97" width="1" height="91" fill="#008000"/><rect x="768" y="217" width="1" height="171" fill="#008000"/><rect x="768" y="417" width="1" height="71" fill="#008000"/><rect x="738" y="327" width="141" height="1" fill="#008000"/><rect x="738" y="327" width="1" height="281" fill="#008000"/><rect x="738" y="347" width="41" height="1" fill="#008000"/><rect x="108" y="607" width="631" height="1" fill="#008000"/><rect x="408" y="237" width="1" height="311" fill="#008000"/><rect x="408" y="517" width="41" height="1" fill="#008000"/><rect x="478" y="517" width="31" height="1" fill="#008000"/><rect x="508" y="517" width="1" height="21" fill="#008000"/><rect x="408" y="537" width="31" height="1" fill="#008000"/><rect x="488" y="537" width="221" height="1" fill="#008000"/><rect x="408" y="587" width="1" height="21" fill="#008000"/><rect x="268" y="347" width="41" height="1" fill="#008000"/><rect x="268" y="317" width="1" height="51" fill="#008000"/><rect x="328" y="367" width="1" height="71" fill="#008000"/><rect x="268" y="407" width="1" height="81" fill="#008000"/><rect x="298" y="387" width="61" height="1" fill="#008000"/><rect x="358" y="387" width="1" height="21" fill="#008000"/><rect x="298" y="387" width="1" height="21" fill="#008000"/><rect x="298" y="467" width="1" height="21" fill="#008000"/><rect x="358" y="457" width="1" height="31" fill="#008000"/></g><g shape-rendering="crispEdges"><rect x="147" y="235" width="3" height="5" fill="#008000"/><rect x="146" y="236" width="5" height="3" fill="#008000"/><rect x="177" y="235" width="3" height="5" fill="#008000"/><rect x="176" y="236" width="5" height="3" fill="#008000"/><rect x="237" y="235" width="3" height="5" fill="#008000"/><rect x="236" y="236" width="5" height="3" fill="#008000"/><rect x="177" y="345" width="3" height="5" fill="#008000"/><rect x="176" y="346" width="5" height="3" fill="#008000"/><rect x="217" y="95" width="3" height="5" fill="#008000"/><rect x="216" y="96" width="5" height="3" fill="#008000"/><rect x="217" y="345" width="3" height="5" fill="#008000"/><rect x="216" y="346" width="5" height="3" fill="#008000"/><rect x="217" y="485" width="3" height="5" fill="#008000"/><rect x="216" y="486" width="5" height="3" fill="#008000"/><rect x="267" y="95" width="3" height="5" fill="#008000"/><rect x="266" y="96" width="5" height="3" fill="#008000"/><rect x="327" y="95" width="3" height="5" fill="#008000"/><rect x="326" y="96" width="5" height="3" fill="#008000"/><rect x="267" y="175" width="3" height="5" fill="#008000"/><rect x="266" y="176" width="5" height="3" fill="#008000"/><rect x="357" y="235" width="3" height="5" fill="#008000"/><rect x="356" y="236" width="5" height="3" fill="#008000"/><rect x="327" y="275" width="3" height="5" fill="#008000"/><rect x="326" y="276" width="5" height="3" fill="#008000"/><rect x="437" y="175" width="3" height="5" fill="#008000"/><rect x="436" y="176" width="5" height="3" fill="#008000"/><rect x="477" y="205" width="3" height="5" fill="#008000"/><rect x="476" y="206" width="5" height="3" fill="#008000"/><rect x="537" y="205" width="3" height="5" fill="#008000"/><rect x="536" y="206" width="5" height="3" fill="#008000"/><rect x="477" y="95" width="3" height="5" fill="#008000"/><rect x="476" y="96" width="5" height="3" fill="#008000"/><rect x="477" y="375" width="3" height="5" fill="#008000"/><rect x="476" y="376" width="5" height="3" fill="#008000"/><rect x="537" y="375" width="3" height="5" fill="#008000"/><rect x="536" y="376" width="5" height="3" fill="#008000"/><rect x="587" y="95" width="3" height="5" fill="#008000"/><rect x="586" y="96" width="5" height="3" fill="#008000"/><rect x="587" y="215" width="3" height="5" fill="#008000"/><rect x="586" y="216" width="5" height="3" fill="#008000"/><rect x="587" y="365" width="3" height="5" fill="#008000"/><rect x="586" y="366" width="5" height="3" fill="#008000"/><rect x="587" y="485" width="3" height="5" fill="#008000"/><rect x="586" y="486" width="5" height="3" fill="#008000"/><rect x="477" y="485" width="3" height="5" fill="#008000"/><rect x="476" y="486" width="5" height="3" fill="#008000"/><rect x="667" y="95" width="3" height="5" fill="#008000"/><rect x="666" y="96" width="5" height="3" fill="#008000"/><rect x="667" y="295" width="3" height="5" fill="#008000"/><rect x="666" y="296" width="5" height="3" fill="#008000"/><rect x="667" y="485" width="3" height="5" fill="#008000"/><rect x="666" y="486" width="5" height="3" fill="#008000"/><rect x="707" y="295" width="3" height="5" fill="#008000"/><rect x="706" y="296" width="5" height="3" fill="#008000"/><rect x="867" y="295" width="3" height="5" fill="#008000"/><rect x="866" y="296" width="5" height="3" fill="#008000"/><rect x="767" y="95" width="3" height="5" fill="#008000"/><rect x="766" y="96" width="5" height="3" fill="#008000"/><rect x="767" y="325" width="3" height="5" fill="#008000"/><rect x="766" y="326" width="5" height="3" fill="#008000"/><rect x="767" y="485" width="3" height="5" fill="#008000"/><rect x="766" y="486" width="5" height="3" fill="#008000"/><rect x="737" y="345" width="3" height="5" fill="#008000"/><rect x="736" y="346" width="5" height="3" fill="#008000"/><rect x="177" y="605" width="3" height="5" fill="#008000"/><rect x="176" y="606" width="5" height="3" fill="#008000"/><rect x="407" y="605" width="3" height="5" fill="#008000"/><rect x="406" y="606" width="5" height="3" fill="#008000"/><rect x="407" y="515" width="3" height="5" fill="#008000"/><rect x="406" y="516" width="5" height="3" fill="#008000"/><rect x="407" y="535" width="3" height="5" fill="#008000"/><rect x="406" y="536" width="5" height="3" fill="#008000"/><rect x="507" y="535" width="3" height="5" fill="#008000"/><rect x="506" y="536" width="5" height="3" fill="#008000"/><rect x="267" y="345" width="3" height="5" fill="#008000"/><rect x="266" y="346" width="5" height="3" fill="#008000"/><rect x="327" y="385" width="3" height="5" fill="#008000"/><rect x="326" y="386" width="5" height="3" fill="#008000"/><rect x="267" y="485" width="3" height="5" fill="#008000"/><rect x="266" y="486" width="5" height="3" fill="#008000"/><rect x="297" y="385" width="3" height="5" fill="#008000"/><rect x="296" y="386" width="5" height="3" fill="#008000"/><rect x="297" y="485" width="3" height="5" fill="#008000"/><rect x="296" y="486" width="5" height="3" fill="#008000"/><rect x="357" y="485" width="3" height="5" fill="#008000"/><rect x="356" y="486" width="5" height="3" fill="#008000"/></g><g font-family="Liberation Sans, sans-serif" fill="#000" stroke="#000" stroke-width="0.08"><rect x="130" y="381" width="7" height="1" fill="#000"/><rect x="133" y="378" width="1" height="7" fill="#000"/><rect x="210" y="401" width="7" height="1" fill="#000"/><rect x="213" y="398" width="1" height="7" fill="#000"/><text x="0" y="0" font-size="11" transform="translate(267,226) rotate(-90) scale(0.8,1)">D</text><text x="0" y="0" font-size="11" transform="translate(327,226) rotate(-90) scale(0.8,1)">D</text><rect x="760" y="191" width="7" height="1" fill="#000"/><rect x="763" y="188" width="1" height="7" fill="#000"/><rect x="760" y="391" width="7" height="1" fill="#000"/><rect x="763" y="388" width="1" height="7" fill="#000"/><text x="0" y="0" font-size="10" transform="translate(297,415) rotate(-90)">3</text><text x="0" y="0" font-size="10" transform="translate(297,465) rotate(-90)">1</text><text transform="translate(19.12,240) scale(1.133,1)" font-size="12">Input</text><text transform="translate(93.55,270) scale(1.080,1)" font-size="12">1.8k</text><text transform="translate(105.87,294) scale(1.012,1)" font-size="12">C7</text><text transform="translate(99.57,312) scale(1.064,1)" font-size="12">100p</text><text transform="translate(187.29,294) scale(1.011,1)" font-size="12">R1</text><text transform="translate(187.73,312) scale(1.064,1)" font-size="12">470k</text><text transform="translate(259.85,50) scale(1.042,1)" font-size="12">2200p</text><text transform="translate(305.69,50) scale(1.026,1)" font-size="12">330</text><text transform="translate(191.40,168) scale(1.004,1)" font-size="12">D1</text><text transform="translate(144.23,184) scale(0.905,1)" font-size="12">CRD</text><text transform="translate(177.68,184) scale(1.057,1)" font-size="12">1mA</text><text transform="translate(277.50,144) scale(1.004,1)" font-size="12">R3</text><text transform="translate(277.76,162) scale(1.072,1)" font-size="12">1k</text><text transform="translate(337.72,144) scale(0.979,1)" font-size="12">R4</text><text transform="translate(337.78,162) scale(1.047,1)" font-size="12">1k</text><text transform="translate(425.80,162) scale(1.044,1)" font-size="12">A970</text><text transform="translate(487.27,144) scale(1.028,1)" font-size="12">R14</text><text transform="translate(487.76,162) scale(1.079,1)" font-size="12">330</text><text transform="translate(406.10,192) scale(0.963,1)" font-size="12">C3</text><text transform="translate(401.64,206) scale(1.049,1)" font-size="12">47p</text><text transform="translate(279.36,244) scale(1.023,1)" font-size="12">2SK170</text><text transform="translate(485.91,258) scale(1.022,1)" font-size="12">1N4148</text><text transform="translate(485.80,348) scale(1.034,1)" font-size="12">1N4148</text><text transform="translate(487.37,294) scale(1.034,1)" font-size="12">R16</text><text transform="translate(487.44,312) scale(1.100,1)" font-size="12">10</text><text transform="translate(546.35,310) scale(0.975,1)" font-size="12">10</text><text transform="translate(591.76,192) scale(1.025,1)" font-size="12">C2240</text><text transform="translate(613.97,240) scale(1.011,1)" font-size="12">C5191</text><text transform="translate(597.33,294) scale(1.065,1)" font-size="12">R17</text><text transform="translate(597.46,312) scale(1.074,1)" font-size="12">150</text><text transform="translate(677.60,264) scale(1.005,1)" font-size="12">R20</text><text transform="translate(677.91,282) scale(1.110,1)" font-size="12">2.2</text><text transform="translate(677.60,324) scale(1.005,1)" font-size="12">R23</text><text transform="translate(677.91,342) scale(1.110,1)" font-size="12">2.2</text><text transform="translate(616.20,352) scale(1.025,1)" font-size="12">A1930</text><text transform="translate(231.55,366) scale(1.051,1)" font-size="12">R11</text><text transform="translate(233.67,382) scale(1.063,1)" font-size="12">330</text><text transform="translate(273.86,372) scale(1.025,1)" font-size="12">C1815</text><text transform="translate(332.06,362) scale(1.016,1)" font-size="12">C2240</text><text transform="translate(367.36,434) scale(1.036,1)" font-size="12">R12</text><text transform="translate(367.87,452) scale(1.058,1)" font-size="12">330</text><text transform="translate(304.29,462) scale(1.016,1)" font-size="12">500</text><text transform="translate(319.56,435) scale(1.073,1)" font-size="11">2</text><text transform="translate(482.06,412) scale(1.016,1)" font-size="12">C2240</text><text transform="translate(594.10,420) scale(1.029,1)" font-size="12">A970</text><text transform="translate(487.16,444) scale(1.039,1)" font-size="12">R15</text><text transform="translate(487.25,462) scale(1.090,1)" font-size="12">120</text><text transform="translate(67.47,417) scale(1.060,1)" font-size="12">1000μ 25V</text><text transform="translate(189.97,484) scale(1.005,1)" font-size="12">C2</text><text transform="translate(191.74,502) scale(1.045,1)" font-size="12">470μ 16V</text><text transform="translate(785.99,204) scale(0.982,1)" font-size="12">C5</text><text transform="translate(783.99,224) scale(1.035,1)" font-size="12">1000μ 16V</text><text transform="translate(786.10,404) scale(0.956,1)" font-size="12">C6</text><text transform="translate(784.29,424) scale(1.037,1)" font-size="12">1000μ 16V</text><text transform="translate(791.66,366) scale(1.044,1)" font-size="12">R25</text><text transform="translate(793.80,380) scale(1.033,1)" font-size="12">10</text><text transform="translate(836.32,368) scale(0.933,1)" font-size="12">C8</text><text transform="translate(832.17,380) scale(1.060,1)" font-size="12">0.022</text><text transform="translate(440.00,514) scale(0.963,1)" font-size="12">C3</text><text transform="translate(471.74,514) scale(1.054,1)" font-size="12">22p</text><text transform="translate(451.39,556) scale(1.010,1)" font-size="12">R10</text><text transform="translate(481.54,556) scale(1.061,1)" font-size="12">22k</text><text transform="translate(417.45,564) scale(1.047,1)" font-size="12">R9</text><text transform="translate(417.96,582) scale(1.071,1)" font-size="12">5.1k</text><text transform="translate(919.89,100) scale(0.905,1)" font-size="10.5">Vcc</text><text transform="translate(918.04,300) scale(1.124,1)" font-size="10.5">Out</text><text transform="translate(887.35,330) scale(0.903,1)" font-size="10.5">GND</text><text transform="translate(918.88,490) scale(0.973,1)" font-size="10.5">Vdd</text><text transform="translate(77.24,610) scale(0.916,1)" font-size="10.5">GND</text></g></svg></body></html>
